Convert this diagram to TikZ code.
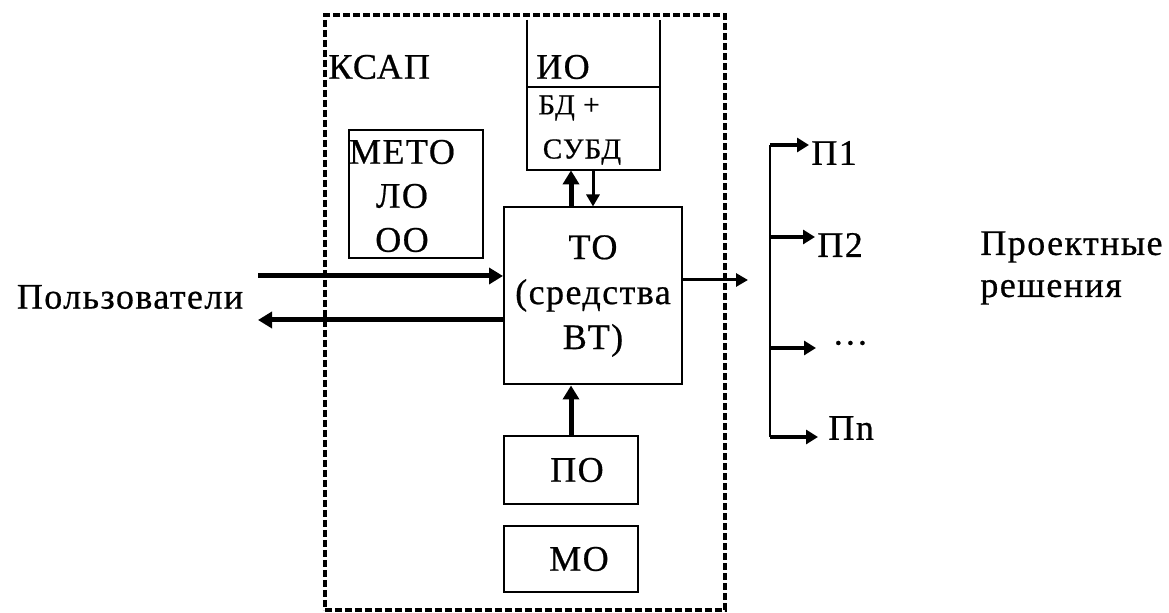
\documentclass[tikz,border=0pt]{standalone}
\usepackage{fontspec}
\setmainfont{Liberation Serif}[LetterSpace=4,FakeBold=0.6]
\usetikzlibrary{arrows.meta,calc}
\begin{document}
\begin{tikzpicture}[x=0.5pt,y=-0.5pt,
  box/.style={draw, line width=1pt, inner sep=0pt},
  lbl/.style={font=\fontsize{18}{22}\selectfont, inner sep=1pt},
  small/.style={font=\fontsize{14.5}{16}\selectfont, inner sep=1pt},
  bigarrow/.style={line width=2.5pt, -{Triangle[length=7pt,width=8pt]}},
  medarrow/.style={line width=1.5pt, -{Triangle[length=6pt,width=6.5pt]}},
  brarrow/.style={line width=2.2pt, -{Triangle[length=6pt,width=7pt]}},
  frame/.style={draw, line width=1.9pt, dash pattern=on 3.4pt off 1.6pt, inner sep=0pt}
]
\useasboundingbox (0,0) rectangle (1169,613);

% outer dashed frame
\node[frame, minimum width=200pt, minimum height=297.5pt] (ksap) at (525,312.5) {};
\node[lbl, anchor=west] (ksapt) at (326,67) {КСАП};

% ИО box (three sides)
\node[minimum width=66.5pt, minimum height=75pt, inner sep=0pt] (io) at (593.5,95) {};
\draw[line width=1pt] (io.north west) -- (io.south west) -- (io.south east) -- (io.north east);
\draw[line width=1pt] ($(io.north west)+(0,67)$) -- ($(io.north east)+(0,67)$);
\node[lbl] (iot) at (563,67) {ИО};
\node[small] (bd) at (569,108) {БД +};
\node[small] (subd) at (582,152) {СУБД};

% МЕТОЛООО box
\node[box, minimum width=67pt, minimum height=64pt] (meto) at (416,194) {};
\node[lbl, align=center] (metot) at (402,196) {МЕТО\\ЛО\\ОО};

% ТО box
\node[box, lbl, inner sep=0pt, minimum width=89pt, minimum height=88.5pt, align=center,
      font=\fontsize{18}{22.5}\selectfont] (to) at (593,296) {ТО\\(средства\\ВТ)};

% ПО, МО boxes
\node[box, lbl, inner sep=0pt, minimum width=67pt, minimum height=34pt] (po) at (571,470) {\hspace{6pt}ПО};
\node[box, lbl, inner sep=0pt, minimum width=67pt, minimum height=33pt] (mo) at (571,559) {\hspace{8pt}МО};

% users
\node[lbl] (users) at (130,297) {Пользователи};
\coordinate (uin) at (258,276);
\coordinate (uout) at (258,320);
\draw[bigarrow] (uin) -- (uin -| to.west);
\draw[bigarrow] (uout -| to.west) -- (uout);

% ИО <-> ТО
\draw[bigarrow] (po.north |- to.north) -- (po.north |- io.south);
\draw[medarrow] (io.south -| to.north) -- (to.north);
% ПО -> ТО
\draw[bigarrow] (po.north) -- (po.north |- to.south);

% output
\coordinate (outend) at (748,280);
\draw[medarrow] (to.east |- outend) -- (outend);

% bus
\coordinate (b1) at (770,145);
\coordinate (b2) at (770,237);
\coordinate (b3) at (770,348);
\coordinate (b4) at (770,437);
\draw[line width=1pt] (b1) -- (b4);
\node[lbl, anchor=west] (p1) at (809,153) {П1};
\node[lbl, anchor=west] (p2) at (815,245) {П2};
\node[lbl, anchor=west] (pd) at (830,343) {…};
\node[lbl, anchor=west] (pn) at (826,428) {Пn};
\draw[brarrow] (b1) -- (b1 -| p1.west);
\draw[brarrow] (b2) -- (b2 -| p2.west);
\draw[brarrow] (b3) -- ([xshift=-7pt]b3 -| pd.west);
\draw[brarrow] (b4) -- ([xshift=-4pt]b4 -| pn.west);

% result label
\node[lbl, align=left, anchor=west, font=\fontsize{18}{21}\selectfont] (pr) at (978,268) {Проектные\\решения};
\end{tikzpicture}
\end{document}
